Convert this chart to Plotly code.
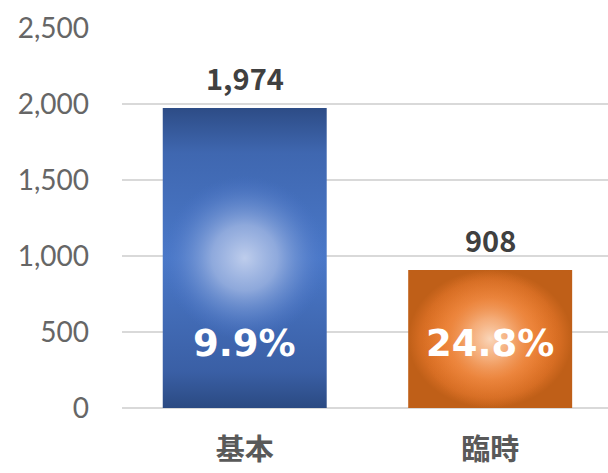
import plotly.graph_objects as go

categories = ["基本", "臨時"]
values = [1974, 908]
shares = ["9.9%", "24.8%"]
y_ticks = [0, 500, 1000, 1500, 2000, 2500]

W, H = 608, 473
ML, MR, MT, MB = 122, 0, 28, 65
X_RANGE = [-0.5, 1.48]
Y_RANGE = [0, 2500]
px_x = (W - ML - MR) / (X_RANGE[1] - X_RANGE[0])
px_y = (H - MT - MB) / (Y_RANGE[1] - Y_RANGE[0])

bar_w = 0.668

base_scales = [
    dict(type="vertical", colorscale=[[0, "#2b4a82"], [0.12, "#3a5fa5"], [0.5, "#4a78c8"],
                                      [0.85, "#3f67b0"], [1, "#2d4c86"]]),
    dict(type="radial", colorscale=[[0, "#ee8438"], [0.55, "#ea7c2e"], [0.85, "#d56c22"],
                                    [1, "#bf5f18"]]),
]
spot_scales = [
    [[0, "rgba(190,205,236,1)"], [0.4, "rgba(160,182,226,0.8)"],
     [0.7, "rgba(112,147,212,0.5)"], [0.9, "rgba(86,126,204,0.2)"],
     [1, "rgba(74,118,200,0)"]],
    [[0, "rgba(250,214,186,1)"], [0.3, "rgba(247,186,142,0.75)"],
     [0.6, "rgba(240,150,88,0.35)"], [1, "rgba(236,128,52,0)"]],
]
base_colors = ["#4a78c8", "#eb7d2f"]

fig = go.Figure()
for i, (c, v) in enumerate(zip(categories, values)):
    x0, x1 = i - bar_w / 2, i + bar_w / 2
    fig.add_trace(go.Scatter(
        x=[x0, x1, x1, x0, x0], y=[0, 0, v, v, 0],
        mode="lines", line=dict(width=0), fill="toself",
        fillcolor=base_colors[i], fillgradient=base_scales[i],
        hoverinfo="skip", showlegend=False,
    ))
    # circular light spot, kept inside the bar
    r_px = min(bar_w * px_x / 2, v * px_y / 2)
    hx, hy = r_px / px_x, r_px / px_y
    cy = v / 2
    fig.add_trace(go.Scatter(
        x=[i - hx, i + hx, i + hx, i - hx, i - hx],
        y=[cy - hy, cy - hy, cy + hy, cy + hy, cy - hy],
        mode="lines", line=dict(width=0), fill="toself",
        fillcolor="rgba(0,0,0,0)",
        fillgradient=dict(type="radial", colorscale=spot_scales[i]),
        hoverinfo="skip", showlegend=False,
    ))
    fig.add_annotation(x=i, y=v, text=f"<b>{v:,}</b>", showarrow=False,
                       yanchor="bottom", yshift=8,
                       font=dict(size=29, color="#404040", family="Noto Sans CJK JP"))
    fig.add_annotation(x=i, y=425, text=f"<b>{shares[i]}</b>", showarrow=False,
                       yanchor="middle",
                       font=dict(size=37, color="white", family="DejaVu Sans"))

fig.update_layout(
    width=W, height=H,
    margin=dict(l=ML, r=MR, t=MT, b=MB, autoexpand=False),
    plot_bgcolor="white", paper_bgcolor="white",
    showlegend=False,
    font=dict(family="Noto Sans CJK JP", color="#595959"),
)
fig.update_xaxes(
    range=X_RANGE, tickvals=list(range(len(categories))),
    ticktext=[f"<b>{c}</b>" for c in categories],
    tickfont=dict(size=29, color="#595959"),
    showgrid=False, zeroline=False, showline=False, ticks="",
    ticklabelstandoff=22, automargin=False,
)
fig.update_yaxes(
    range=Y_RANGE, tickvals=y_ticks,
    ticktext=[f"{t:,}" for t in y_ticks],
    tickfont=dict(size=28, color="#666666", family="Lato"),
    showgrid=True, gridcolor="#d9d9d9", gridwidth=1.5,
    zeroline=True, zerolinecolor="#d9d9d9", zerolinewidth=1.5,
    showline=False, ticks="", ticklabelstandoff=32, automargin=False,
)

fig.write_html("out.html", config={"displayModeBar": False},
               post_script="document.body.style.margin='0';")
